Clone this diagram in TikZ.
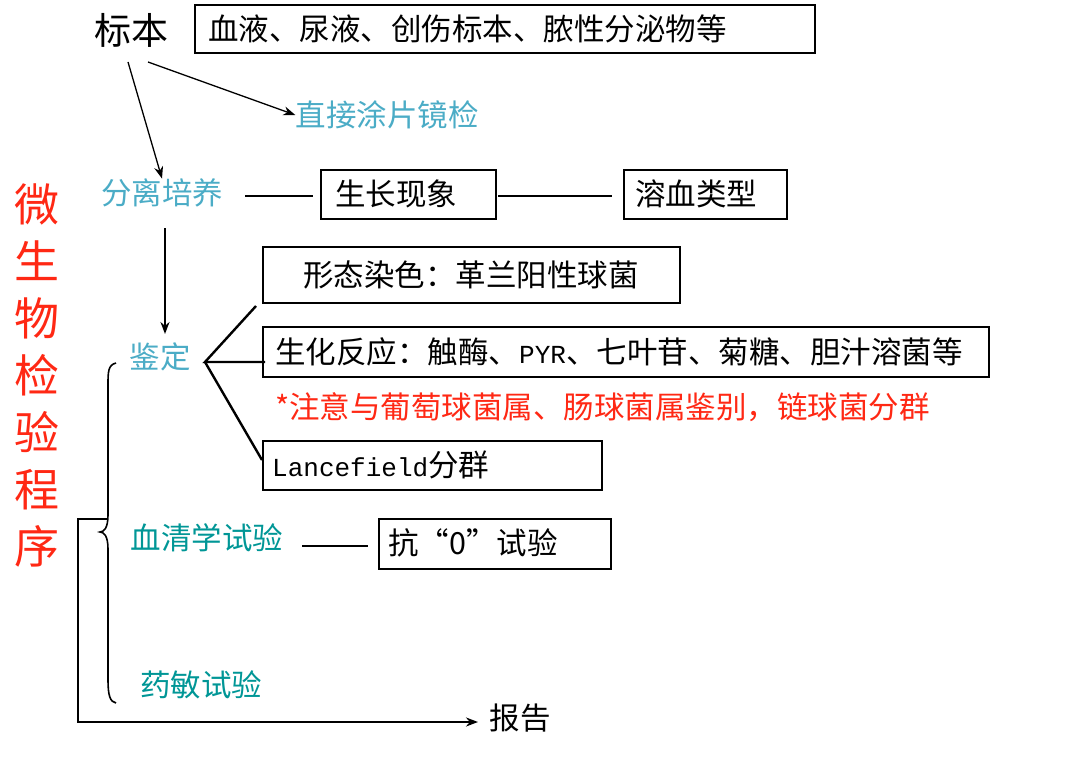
\documentclass[tikz,border=0pt]{standalone}
\usepackage{fontspec}
\setmainfont{Noto Sans CJK SC}
\newfontfamily\monof{Liberation Mono}
\newcommand{\mymono}[1]{{\monof\fontsize{26}{27}\selectfont #1}}
\usetikzlibrary{arrows.meta}
\definecolor{lb}{RGB}{75,172,198}
\definecolor{tl}{RGB}{0,150,150}
\definecolor{rd}{RGB}{255,40,20}
\begin{document}
\begin{tikzpicture}[x=1pt,y=-1pt,
  txt/.style={font=\fontsize{30.5}{32}\selectfont,inner sep=0pt},
  box/.style={draw,line width=1.6pt,inner sep=0pt},
  ln/.style={line width=2.4pt},
  arr/.style={line width=1.3pt,-{Stealth[length=12pt,width=9pt]}}]
\useasboundingbox (0,0) rectangle (1080,760);
\node[txt,font=\fontsize{37}{40}\selectfont] (bb) at (131,30) {标本};
\draw[box] (195,5) rectangle (815,53);
\node[txt,anchor=west] (b1) at (208,29) {血液、尿液、创伤标本、脓性分泌物等};
\node[txt,text=lb] (zj) at (387,115) {直接涂片镜检};
\coordinate (a1) at (128,62); \coordinate (a2) at (148,62);
\node[txt,text=lb] (fl) at (162,193) {分离培养};
\draw[arr] (a1) -- (fl.north);
\draw[arr] (a2) -- (zj.west);
\draw[box] (321,170) rectangle (496,219);
\node[txt] (sz) at (396,194) {生长现象};
\draw[box] (624,170) rectangle (787,219);
\node[txt] (rx) at (696,194) {溶血类型};
\coordinate (l1) at (245,196); \coordinate (l2) at (313,196);
\coordinate (l3) at (498,196); \coordinate (l4) at (612,196);
\draw[line width=1.4pt] (l1) -- (l2); \draw[line width=1.4pt] (l3) -- (l4);
\node[txt,text=lb] (jd) at (160,357) {鉴定};
\draw[line width=2.2pt,-{Stealth[length=12pt,width=9pt]}] (165,228) -- (165,334);
\coordinate (fan) at (205,362);
\draw[box] (263,247) rectangle (680,303);
\node[txt] (xt) at (471,275) {形态染色：革兰阳性球菌};
\draw[box] (263,327) rectangle (989,377);
\node[txt,anchor=west] (sh) at (275,352) {生化反应：触酶、\mymono{PYR}、七叶苷、菊糖、胆汁溶菌等};
\node[txt,anchor=west,text=rd] (zy) at (275,407) {*注意与葡萄球菌属、肠球菌属鉴别，链球菌分群};
\draw[box] (263,441) rectangle (602,490);
\node[txt,anchor=west] (lf) at (272,465) {\mymono{Lancefield}分群};
\draw[ln] (256,306) -- (fan) -- (265,362);
\draw[ln] (fan) -- (262,460);
\node[txt,text=tl] (xq) at (207,538) {血清学试验};
\draw[box] (379,519) rectangle (611,569);
\node[txt] (k0) at (473,543) {抗“0”试验};
\draw[ln] (302,546) -- (368,546);
\node[txt,text=tl] (ym) at (201,685) {药敏试验};
\node[txt] (bg) at (520,718) {报告};
\draw[line width=1.6pt] (116,363) .. controls (108,365) and (108,372) .. (108,385) -- (108,515) .. controls (108,528) and (104,532) .. (100,532) .. controls (104,532) and (108,536) .. (108,549) -- (108,680) .. controls (108,695) and (110,702) .. (116,703);
\draw[line width=2.2pt,-{Stealth[length=12pt,width=9pt]}] (107,519) -- (78,519) -- (78,722) -- (478,722);
\node[text=rd,font=\fontsize{45}{57}\selectfont,align=center,inner sep=0pt] (wsw) at (37,375) {微\\生\\物\\检\\验\\程\\序};
\end{tikzpicture}
\end{document}
